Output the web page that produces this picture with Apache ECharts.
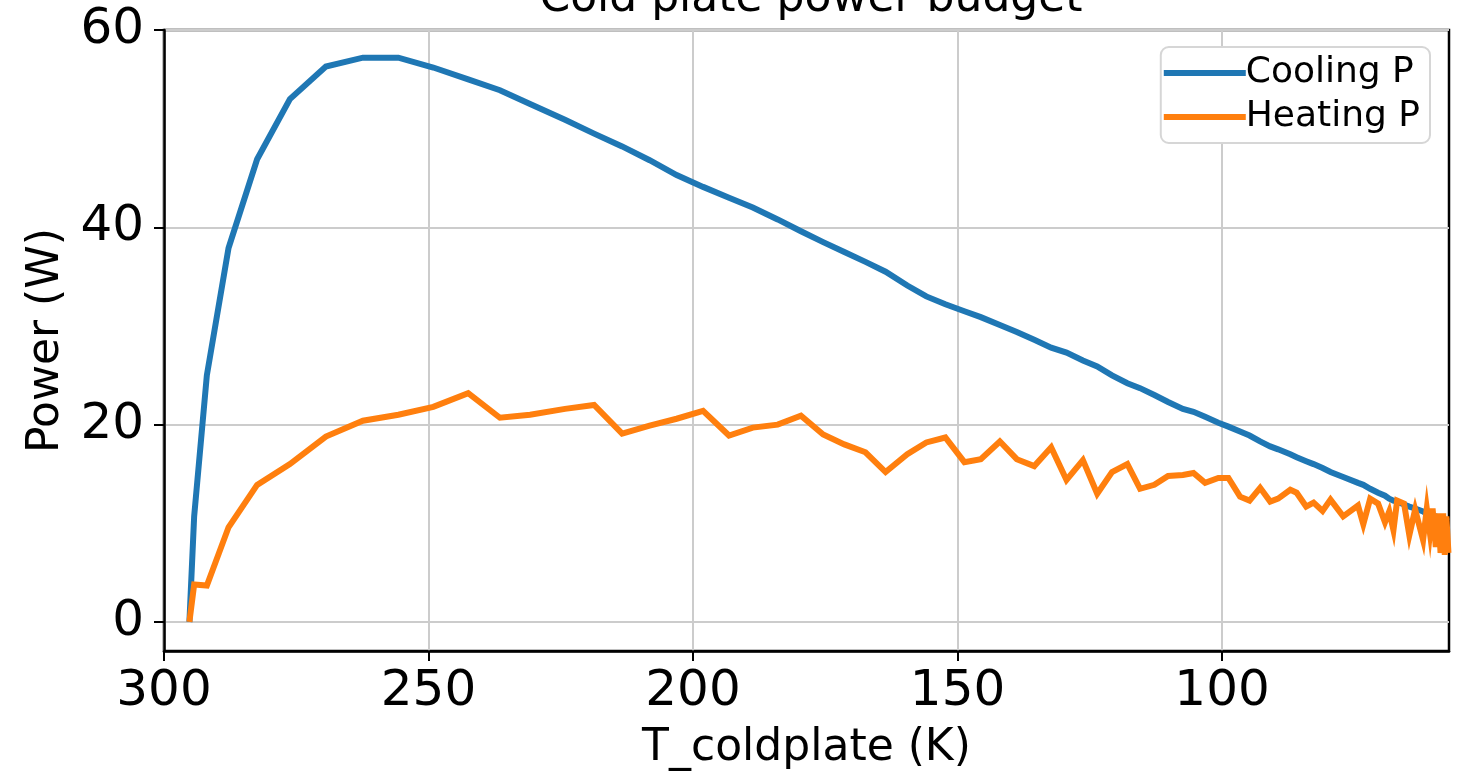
<!DOCTYPE html>
<html>
<head>
<meta charset="utf-8">
<script src="https://cdn.jsdelivr.net/npm/echarts@6/dist/echarts.min.js"></script>
<style>
html,body{margin:0;padding:0;background:#fff;}
#chart{width:1461px;height:778px;}
</style>
</head>
<body>
<div id="chart"></div>
<script>
const temperature = [295.2, 294.3, 291.9, 287.8, 282.4, 276.2, 269.4, 262.4, 255.7, 249.1, 242.5, 236.5, 230.8, 224.2, 218.7, 213.4, 208.2, 203.1, 198.1, 193.2, 188.7, 184.0, 179.6, 175.4, 171.4, 167.4, 163.6, 159.5, 155.9, 152.3, 148.7, 145.6, 142.0, 138.8, 135.5, 132.3, 129.4, 126.3, 123.6, 120.8, 117.9, 115.5, 112.8, 110.2, 107.4, 105.4, 103.2, 100.7, 98.8, 96.6, 94.8, 92.8, 90.9, 89.4, 87.1, 85.9, 84.1, 82.7, 81.0, 79.5, 77.1, 74.3, 73.3, 72.0, 70.5, 69.2, 68.4, 67.6, 66.9, 65.6, 64.6, 63.5, 62.0, 61.3, 60.7, 60.2, 59.6, 59.1, 58.7, 58.2, 57.9, 57.6, 57.2];
const coolingP = [0.0, 10.7, 25.0, 37.9, 46.9, 53.0, 56.3, 57.2, 57.2, 56.2, 55.0, 53.9, 52.5, 50.9, 49.5, 48.2, 46.8, 45.3, 44.1, 43.0, 42.0, 40.8, 39.6, 38.5, 37.5, 36.5, 35.5, 34.1, 33.0, 32.2, 31.5, 30.9, 30.1, 29.4, 28.6, 27.8, 27.3, 26.5, 25.9, 25.0, 24.2, 23.7, 23.0, 22.3, 21.6, 21.3, 20.8, 20.2, 19.8, 19.3, 18.9, 18.3, 17.8, 17.5, 17.0, 16.7, 16.3, 16.0, 15.6, 15.2, 14.7, 14.1, 13.9, 13.5, 13.1, 12.8, 12.5, 12.3, 12.2, 11.9, 11.7, 11.5, 11.2, 11.0, 10.9, 10.8, 10.7, 10.6, 10.5, 10.4, 10.3, 10.3, 10.2];
const heatingP = [0.0, 3.8, 3.7, 9.6, 13.9, 16.0, 18.8, 20.4, 21.0, 21.8, 23.2, 20.7, 21.0, 21.6, 22.0, 19.1, 19.9, 20.6, 21.4, 18.9, 19.7, 20.0, 20.9, 19.0, 18.0, 17.2, 15.2, 17.0, 18.2, 18.7, 16.2, 16.5, 18.3, 16.5, 15.8, 17.7, 14.4, 16.4, 13.0, 15.2, 16.0, 13.5, 13.9, 14.8, 14.9, 15.1, 14.1, 14.6, 14.6, 12.7, 12.3, 13.6, 12.2, 12.5, 13.4, 13.1, 11.7, 12.1, 11.25, 12.4, 10.7, 11.8, 9.9, 12.5, 12.0, 10.1, 11.2, 9.3, 12.3, 12.0, 8.8, 11.4, 8.3, 11.5, 9.0, 11.5, 7.6, 11.0, 7.0, 11.0, 6.8, 10.7, 7.0];
const xTicks = [300, 250, 200, 150, 100];
const yTicks = [0, 20, 40, 60];

const FONT = 'DejaVu Sans';
const chart = echarts.init(document.getElementById('chart'), null, {renderer: 'canvas'});
const pairs = (ys) => temperature.map((t, i) => [t, ys[i]]);

chart.setOption({
  animation: false,
  backgroundColor: '#ffffff',
  title: {
    text: 'Cold plate power budget',
    left: 806, top: -27,
    textAlign: 'center',
    textStyle: {fontFamily: FONT, fontSize: 44, fontWeight: 'normal', color: '#000'}
  },
  grid: {
    left: 164, right: 12, top: 30, bottom: 127,
    show: true, borderColor: '#000', borderWidth: 2.5, backgroundColor: 'transparent'
  },
  legend: {
    orient: 'vertical',
    right: 31, top: 47,
    padding: [8, 10, 8, 3],
    itemGap: 8,
    itemWidth: 82, itemHeight: 6,
    icon: 'rect',
    backgroundColor: '#fff',
    borderColor: '#d6d6d6', borderWidth: 2, borderRadius: 8,
    textStyle: {fontFamily: FONT, fontSize: 36, lineHeight: 36, color: '#000', padding: [0, 0, 0, -5]},
    data: ['Cooling P', 'Heating P']
  },
  xAxis: {
    type: 'value',
    inverse: true,
    min: 57.1, max: 300,
    name: 'T_coldplate (K)',
    nameLocation: 'middle',
    nameGap: 76,
    nameTextStyle: {fontFamily: FONT, fontSize: 44, color: '#000'},
    axisLine: {show: true, onZero: false, lineStyle: {color: '#000', width: 2.5}},
    axisTick: {show: true, length: 10, inside: false, lineStyle: {color: '#000', width: 2}, customValues: xTicks},
    axisLabel: {fontFamily: FONT, fontSize: 50, color: '#000', margin: 16, customValues: xTicks},
    splitLine: {show: true, lineStyle: {color: '#cccccc', width: 2}}
  },
  yAxis: {
    type: 'value',
    min: -2.94, max: 60,
    name: 'Power (W)',
    nameLocation: 'middle',
    nameGap: 95,
    nameTextStyle: {fontFamily: FONT, fontSize: 44, color: '#000'},
    axisLine: {show: true, onZero: false, lineStyle: {color: '#000', width: 2.5}},
    axisTick: {show: true, length: 10, inside: false, lineStyle: {color: '#000', width: 2}, customValues: yTicks},
    axisLabel: {fontFamily: FONT, fontSize: 50, color: '#000', margin: 20, customValues: yTicks},
    splitLine: {show: true, lineStyle: {color: '#cccccc', width: 2}}
  },
  series: [
    {
      name: 'Cooling P', type: 'line', data: pairs(coolingP),
      symbol: 'none', showSymbol: false, smooth: false,
      lineStyle: {color: '#1f77b4', width: 6, cap: 'butt', join: 'miter'},
      itemStyle: {color: '#1f77b4'}
    },
    {
      name: 'Heating P', type: 'line', data: pairs(heatingP),
      symbol: 'none', showSymbol: false, smooth: false,
      lineStyle: {color: '#ff7f0e', width: 6, cap: 'butt', join: 'miter'},
      itemStyle: {color: '#ff7f0e'}
    }
  ]
});
</script>
</body>
</html>
